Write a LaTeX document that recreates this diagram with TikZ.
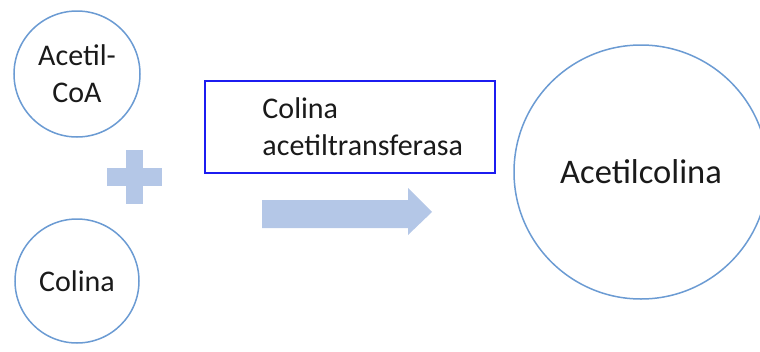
\documentclass[tikz,border=0pt]{standalone}
\usepackage{fontspec}
\setmainfont{Carlito}
\usetikzlibrary{positioning}
\definecolor{ringstroke}{HTML}{6B9BD3}
\definecolor{shapefill}{HTML}{B4C7E7}
\definecolor{boxstroke}{HTML}{1C1CF0}
\definecolor{txt}{HTML}{1A1A1A}

\begin{document}
\begin{tikzpicture}[
  x=1pt, y=-1pt,
  font=\fontsize{30}{37}\selectfont,
  ring/.style={
    circle,
    draw=ringstroke,
    line width=1.5pt,
    fill=white,
    minimum size=#1,
    inner sep=0pt,
    align=center,
    text=txt
  },
  enzbox/.style={
    draw=boxstroke,
    line width=1.5pt,
    minimum width=290pt,
    minimum height=92pt
  },
  lbl/.style={inner sep=0pt, align=left, text=txt},
  solid shape/.style={fill=shapefill, draw=none}
]
  \useasboundingbox (0,0) rectangle (760,351);

  % Substrates on the left
  \node[ring=126pt] (acoa) at (77,74) {Acetil-\\CoA};
  \node[ring=124pt] (col) at (77,281) {Colina};

  % Plus sign between them
  \fill[solid shape] (107,168) rectangle (162,186);
  \fill[solid shape] (126,150) rectangle (143,204);

  % Enzyme box
  \node[enzbox] (cat) at (350,127) {};
  \node[lbl, anchor=west] (catlbl) at ([xshift=58pt]cat.west) {Colina\\acetiltransferasa};

  % Reaction arrow
  \fill[solid shape] (262,200) -- (408,200) -- (408,188) -- (432,212)
    -- (408,235) -- (408,228) -- (262,228) -- cycle;

  % Product
  \node[ring=254pt, font=\fontsize{34.5}{40}\selectfont] (ach) at (641,172) {Acetilcolina};
\end{tikzpicture}
\end{document}
